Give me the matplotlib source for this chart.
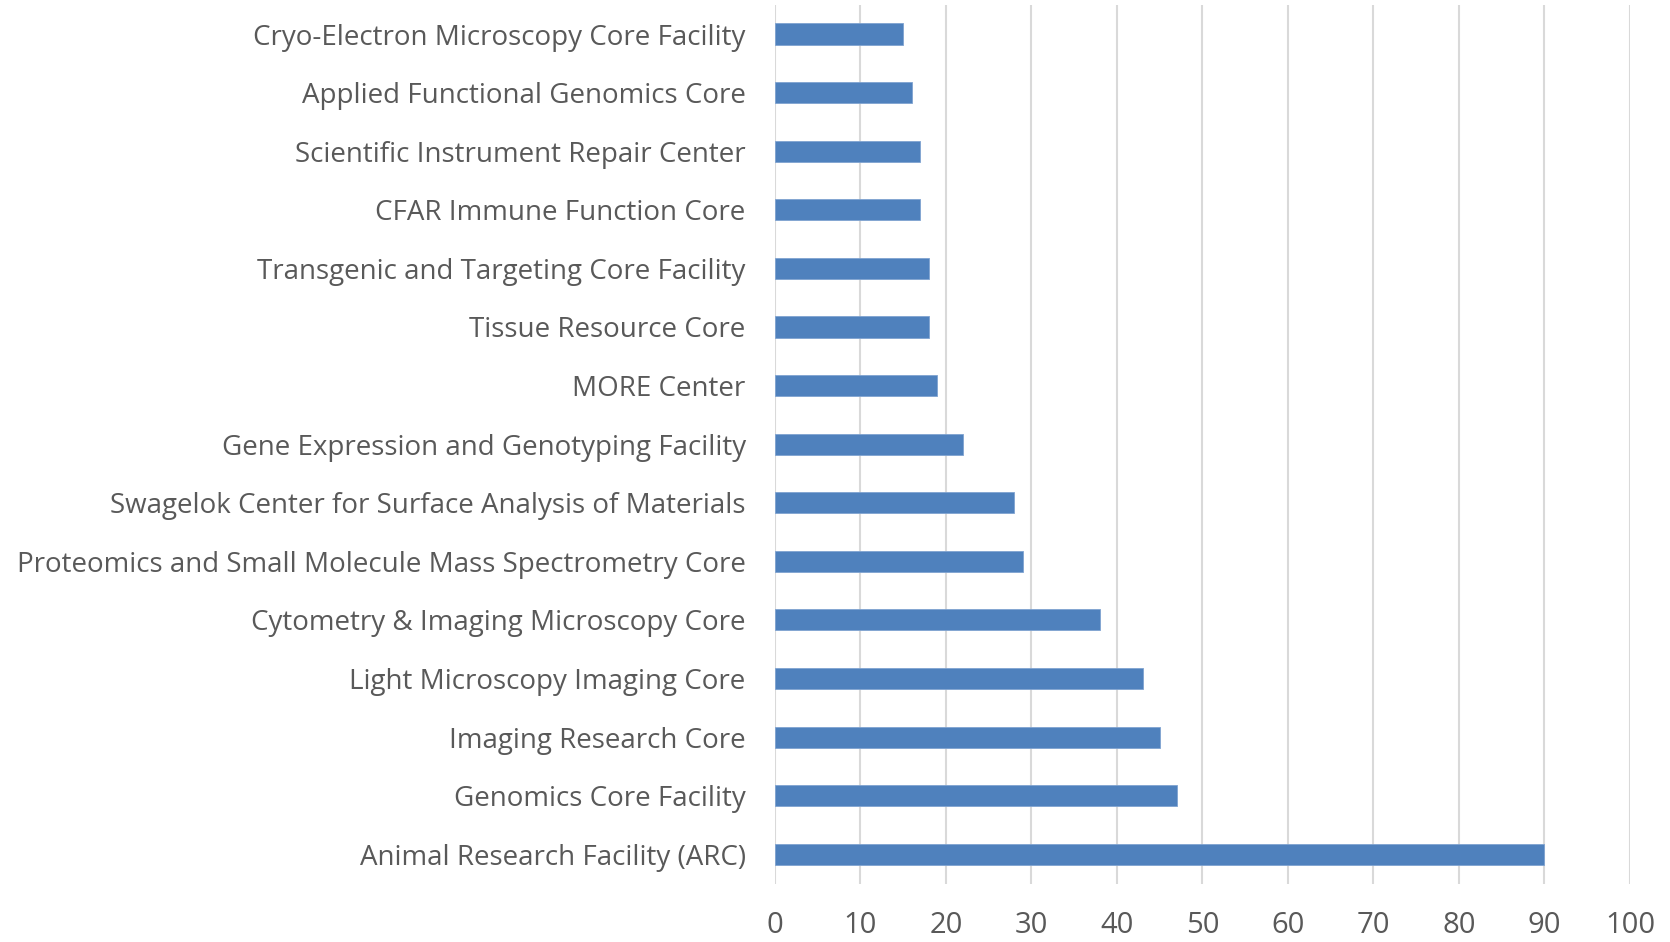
import matplotlib.pyplot as plt

categories = [
    "Cryo-Electron Microscopy Core Facility",
    "Applied Functional Genomics Core",
    "Scientific Instrument Repair Center",
    "CFAR Immune Function Core",
    "Transgenic and Targeting Core Facility",
    "Tissue Resource Core",
    "MORE Center",
    "Gene Expression and Genotyping Facility",
    "Swagelok Center for Surface Analysis of Materials",
    "Proteomics and Small Molecule Mass Spectrometry Core",
    "Cytometry & Imaging Microscopy Core",
    "Light Microscopy Imaging Core",
    "Imaging Research Core",
    "Genomics Core Facility",
    "Animal Research Facility (ARC)",
]
values = [15, 16, 17, 17, 18, 18, 19, 22, 28, 29, 38, 43, 45, 47, 90]
xticks = [0, 10, 20, 30, 40, 50, 60, 70, 80, 90, 100]

plt.rcParams["font.family"] = ["Open Sans", "DejaVu Sans"]

fig = plt.figure(figsize=(16.7, 9.42), dpi=100)
ax = fig.add_axes([0.464, 0.062, 0.512, 0.933])

pos = list(range(len(categories)))
ax.barh(pos, values, height=0.36, color="#4f81bd", edgecolor="#7fa3d1",
        linewidth=0.6, zorder=3)

ax.set_ylim(len(categories) - 0.5, -0.5)
ax.set_xlim(0, 100)
ax.set_yticks(pos)
ax.set_yticklabels(categories)
ax.set_xticks(xticks)
ax.set_xticklabels([str(t) for t in xticks])

ax.grid(axis="x", color="#d9d9d9", linewidth=1.5, zorder=0)
for s in ax.spines.values():
    s.set_visible(False)
ax.tick_params(axis="both", length=0, labelsize=20, colors="#595959")
ax.tick_params(axis="y", pad=21)
ax.tick_params(axis="x", pad=20, labelsize=21)

fig.savefig("out.png", dpi=100)
